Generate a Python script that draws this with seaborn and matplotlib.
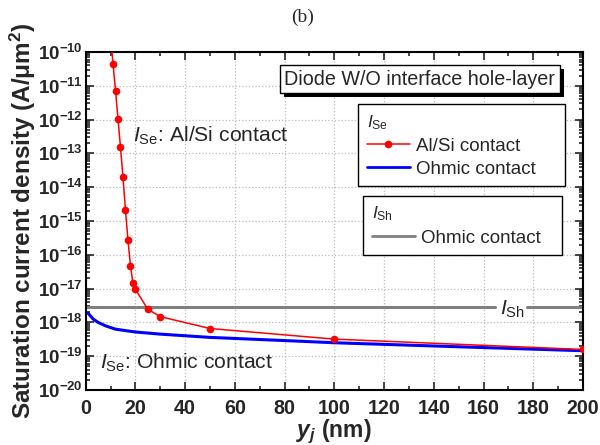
import numpy as np
import matplotlib
matplotlib.use('Agg')
import matplotlib.pyplot as plt
import matplotlib.ticker as ticker
import matplotlib.patheffects as pe
from matplotlib.lines import Line2D
import seaborn as sns

# I_Se, Al/Si contact (red, dots)
yj_alsi = [10, 11, 12, 13, 14, 15, 16, 17, 18, 19, 20, 25, 30, 50, 100, 200]
j_alsi = [3.0e-10, 4.4e-11, 7.1e-12, 1.05e-12, 1.5e-13, 2.0e-14, 2.1e-15, 2.75e-16,
          4.8e-17, 1.45e-17, 9.5e-18, 2.45e-18, 1.48e-18, 6.6e-19, 3.2e-19, 1.58e-19]

# I_Se, ohmic contact (blue)
yj_ohm = [1, 3, 5, 8, 12, 20, 30, 50, 80, 100, 150, 200]
j_ohm = [1.86e-18, 1.26e-18, 1.0e-18, 7.9e-19, 6.3e-19, 5.2e-19, 4.5e-19, 3.6e-19,
         2.9e-19, 2.5e-19, 1.9e-19, 1.45e-19]

# I_Sh, ohmic contact (gray, flat) -- broken where its label sits
yj_sh_left = [0, 164.5]
yj_sh_right = [177.5, 200]
j_sh = 2.95e-18

x_ticks = list(range(0, 201, 20))
y_exps = list(range(-20, -9))

sns.set_style('ticks')
plt.rcParams['font.family'] = ['Liberation Sans', 'DejaVu Sans']
plt.rcParams['mathtext.fontset'] = 'custom'
plt.rcParams['mathtext.rm'] = 'Liberation Sans'
plt.rcParams['mathtext.it'] = 'Liberation Sans:italic'
plt.rcParams['mathtext.bf'] = 'Liberation Sans:bold'
plt.rcParams['mathtext.bfit'] = 'Liberation Sans:italic:bold'

fig = plt.figure(figsize=(6, 4.45), dpi=100)
ax = fig.add_axes([0.1428, 0.1236, 0.8289, 0.7595])

sns.lineplot(x=yj_alsi, y=j_alsi, ax=ax, color='red', lw=1.1, marker='o',
             markersize=5.5, markeredgewidth=0, zorder=4)
sns.lineplot(x=yj_ohm, y=j_ohm, ax=ax, color='blue', lw=2.2, zorder=3)
sns.lineplot(x=yj_sh_left, y=[j_sh] * 2, ax=ax, color='gray', lw=2.2, zorder=2)
sns.lineplot(x=yj_sh_right, y=[j_sh] * 2, ax=ax, color='gray', lw=2.2, zorder=2)

ax.set_yscale('log')
ax.set_xlim(0, 200)
ax.set_ylim(1e-20, 1e-10)
ax.set_xticks(x_ticks)
ax.set_xticklabels([str(v) for v in x_ticks], fontsize=14.2, fontweight='bold')
ax.xaxis.set_minor_locator(ticker.MultipleLocator(10))
ax.set_yticks([10.0 ** e for e in y_exps])
ax.set_yticklabels([r'$\mathbf{10^{%d}}$' % e for e in y_exps], fontsize=13.5)
ax.yaxis.set_minor_locator(ticker.LogLocator(base=10, subs=np.arange(2, 10), numticks=100))
ax.yaxis.set_minor_formatter(ticker.NullFormatter())

ax.tick_params(which='both', direction='in', top=True, right=True, width=1.2)
ax.tick_params(which='major', length=6)
ax.tick_params(which='minor', length=3)
ax.tick_params(axis='x', which='major', pad=6.5)
ax.tick_params(axis='y', which='major', pad=2)
for s in ax.spines.values():
    s.set_linewidth(1.5)
    s.set_color('black')
ax.grid(True, which='major', ls=':', color='#bbbbbb', lw=0.9)

ax.set_xlabel(r'$\mathbfit{y}_{\mathbfit{j}}$ (nm)', fontsize=16.5, fontweight='bold', labelpad=0)
ax.set_ylabel(r'Saturation current density (A/$\mathbf{\mu}$m$^\mathbf{2}$)',
              fontsize=17.5, fontweight='bold', labelpad=0)

ax.text(19, 2.2e-13, r'$\mathit{I}_{\mathrm{Se}}$: Al/Si contact', fontsize=15.2, va='baseline')
ax.text(5.8, 4.4e-20, r'$\mathit{I}_{\mathrm{Se}}$: Ohmic contact', fontsize=15.2, va='baseline')
ax.text(166.5, 1.74e-18, r'$\mathit{I}_{\mathrm{Sh}}$', fontsize=15.2, ha='left', va='baseline')

t = ax.text(0.944, 0.92, 'Diode W/O interface hole-layer', transform=ax.transAxes,
            fontsize=14.2, ha='right', va='center', zorder=6,
            bbox=dict(boxstyle='square,pad=0.22', fc='white', ec='black', lw=1))
t.get_bbox_patch().set_path_effects([
    pe.SimplePatchShadow(offset=(3, -3), shadow_rgbFace='black', alpha=1),
    pe.Normal()])

leg_kw = dict(loc='upper left', mode='expand', fontsize=13.5, title_fontsize=12.5,
              alignment='left', handlelength=2.3, handletextpad=0.3, fancybox=False,
              edgecolor='black', framealpha=1, borderpad=0.45, borderaxespad=0,
              labelspacing=0.32)

h1 = [Line2D([], [], color='red', lw=1.1, marker='o', markersize=5.5, markeredgewidth=0),
      Line2D([], [], color='blue', lw=2.0)]
leg1 = ax.legend(h1, ['Al/Si contact', 'Ohmic contact'], title=r'$\mathit{I}_{\mathrm{Se}}$',
                 bbox_to_anchor=(0.5485, 0.585, 0.4145, 0.26), **leg_kw)
leg1.get_frame().set_linewidth(1)
ax.add_artist(leg1)

h2 = [Line2D([], [], color='gray', lw=2.0)]
leg2 = ax.legend(h2, ['Ohmic contact'], title=r'$\mathit{I}_{\mathrm{Sh}}$',
                 bbox_to_anchor=(0.5586, 0.39, 0.4, 0.183), **leg_kw)
leg2.get_frame().set_linewidth(1)

fig.text(0.505, 0.96, '(b)', fontsize=14, family='Liberation Serif', ha='center', va='center')

fig.savefig('out.png', dpi=100)
